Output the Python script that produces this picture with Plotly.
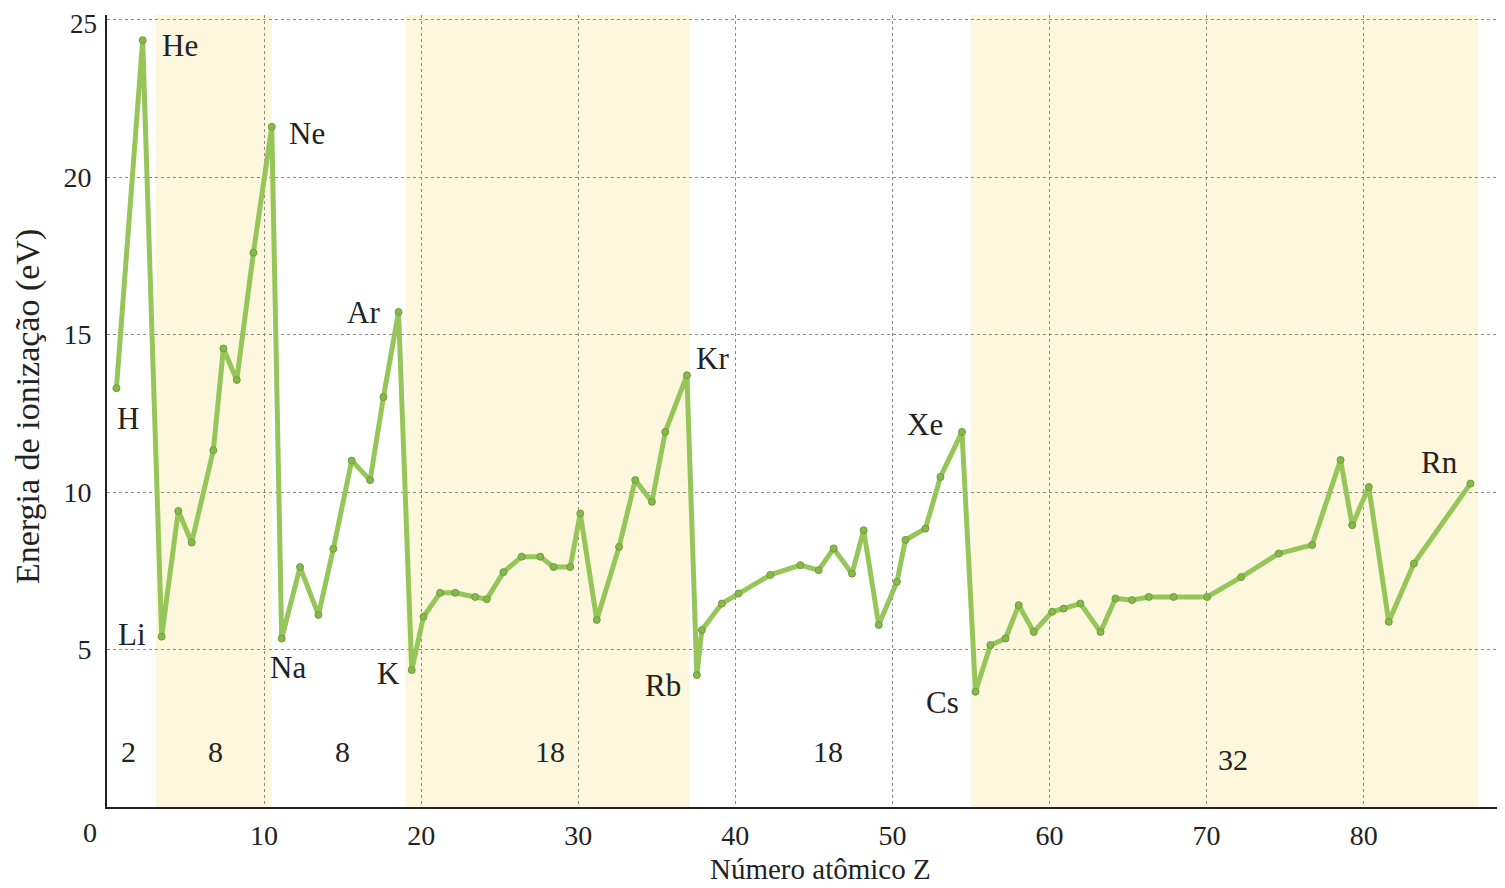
import plotly.graph_objects as go

# Points (x = position on atomic-number axis, y = ionization energy in eV)
z_pos = [0.6, 2.27, 3.48, 4.54, 5.39, 6.77, 7.41, 8.26, 9.32, 10.49,
         11.12, 12.29, 13.46, 14.41, 15.58, 16.75, 17.6, 18.56,
         19.4, 20.15, 21.21, 22.17, 23.44, 24.18, 25.24, 26.4, 27.58, 28.43, 29.49,
         30.13, 31.18, 32.6, 33.63, 34.69, 35.54, 36.92,
         37.55, 37.87, 39.14, 40.2, 42.23, 44.14, 45.3, 46.26, 47.43, 48.17,
         49.13, 50.29, 50.83, 52.1, 53.06, 54.43,
         55.29, 56.24, 57.2, 58.04, 59.0, 60.17, 60.9, 61.97, 63.25, 64.2, 65.26, 66.32,
         67.9, 70.04, 72.2, 74.6, 76.72, 78.53, 79.27, 80.33, 81.6, 83.2, 86.8]
energy = [13.3, 24.35, 5.41, 9.4, 8.4, 11.33, 14.56, 13.56, 17.6, 21.6,
          5.35, 7.62, 6.1, 8.2, 11.0, 10.38, 13.02, 15.72,
          4.35, 6.04, 6.8, 6.8, 6.67, 6.6, 7.46, 7.95, 7.95, 7.62, 7.62,
          9.32, 5.94, 8.26, 10.38, 9.69, 11.91, 13.71,
          4.19, 5.62, 6.46, 6.78, 7.37, 7.68, 7.52, 8.21, 7.41, 8.79,
          5.78, 7.15, 8.48, 8.84, 10.48, 11.91,
          3.66, 5.14, 5.35, 6.41, 5.56, 6.2, 6.3, 6.46, 5.56, 6.62, 6.57, 6.67,
          6.67, 6.67, 7.3, 8.05, 8.32, 11.02, 8.95, 10.16, 5.88, 7.73, 10.27]

# Element labels (text, x, y)
elem_text = ["He", "Ne", "Ar", "Kr", "Xe", "Rn", "H", "Li", "Na", "K", "Rb", "Cs"]
elem_x = [4.65, 12.73, 16.3, 38.57, 52.07, 84.85, 1.34, 1.59, 11.52, 17.89, 35.39, 53.2]
elem_y = [24.19, 21.4, 15.71, 14.25, 12.16, 10.95, 12.35, 5.49, 4.44, 4.25, 3.87, 3.33]

# Shell-size labels
shell_text = ["2", "8", "8", "18", "18", "32"]
shell_x = [1.4, 6.9, 15.0, 28.2, 45.9, 71.7]
shell_y = [1.75, 1.75, 1.75, 1.75, 1.75, 1.5]

# Shaded bands (x ranges)
band_x0 = [3.1, 19.0, 55.0]
band_x1 = [10.5, 37.1, 87.3]

x_ticks = [10, 20, 30, 40, 50, 60, 70, 80]
y_ticks = [5, 10, 15, 20, 25]
y_ticktext = ["5", "10", "15", "20", ""]   # top label "25" drawn separately so it is not clipped

SERIF = "Liberation Serif"
OFF = 8                      # page body margin of the html page
W, H = 1505 - OFF, 888 - OFF
L, T, B, R = 107 - OFF, 15 - OFF, 81, 0
PW, PH = W - L - R, H - T - B


def px(xp):                  # page x pixel -> paper x
    return (xp - OFF - L) / PW


def py(yp):                  # page y pixel -> paper y
    return (H - (yp - OFF) - B) / PH


fig = go.Figure()

fig.add_trace(go.Scatter(
    x=z_pos, y=energy, mode="lines+markers",
    line=dict(color="#96C65A", width=5),
    marker=dict(size=7, color="#86B84C", line=dict(color="#6E9E3E", width=1)),
    showlegend=False, hoverinfo="x+y",
))

for x0, x1 in zip(band_x0, band_x1):
    fig.add_shape(type="rect", xref="x", yref="y", x0=x0, x1=x1, y0=0, y1=25.15,
                  fillcolor="#FCF7DD", line=dict(width=0), layer="below")

for t, x, y in zip(elem_text, elem_x, elem_y):
    fig.add_annotation(x=x, y=y, text=t, showarrow=False, xref="x", yref="y",
                       xanchor="center", yanchor="middle",
                       font=dict(family=SERIF, size=31, color="#222"))

for t, x, y in zip(shell_text, shell_x, shell_y):
    fig.add_annotation(x=x, y=y, text=t, showarrow=False, xref="x", yref="y",
                       xanchor="center", yanchor="middle",
                       font=dict(family=SERIF, size=30, color="#222"))

# origin label
fig.add_annotation(x=px(90), y=py(832), text="0", showarrow=False,
                   xref="paper", yref="paper", xanchor="center", yanchor="middle",
                   font=dict(family=SERIF, size=28, color="#222"))
# top y label
fig.add_annotation(x=px(99), y=py(24), text="25", showarrow=False,
                   xref="paper", yref="paper", xanchor="right", yanchor="middle",
                   font=dict(family=SERIF, size=27, color="#222"))

# axis titles
fig.add_annotation(x=px(820), y=py(869), text="Número atômico Z",
                   showarrow=False, xref="paper", yref="paper",
                   xanchor="center", yanchor="middle",
                   font=dict(family=SERIF, size=29, color="#222"))
fig.add_annotation(x=px(28), y=py(407), text="Energia de ionização (eV)",
                   textangle=-90, showarrow=False, xref="paper", yref="paper",
                   xanchor="center", yanchor="middle",
                   font=dict(family=SERIF, size=34, color="#222"))

fig.update_layout(
    width=W, height=H,
    margin=dict(l=L, r=R, t=T, b=B, autoexpand=False),
    paper_bgcolor="white", plot_bgcolor="white",
    font=dict(family=SERIF, size=28, color="#222"),
)

fig.update_xaxes(
    range=[0, 89], tickvals=x_ticks, ticks="", showline=True, linecolor="#222", linewidth=2,
    showgrid=True, gridcolor="#8a8a8a", gridwidth=1, griddash="dot", zeroline=False,
    ticklabelstandoff=2, automargin=False, ticklabeloverflow="allow",
)
fig.update_yaxes(
    range=[0, 25.15], tickvals=y_ticks, ticktext=y_ticktext, ticks="", showline=True,
    linecolor="#222", linewidth=2,
    showgrid=True, gridcolor="#8a8a8a", gridwidth=1, griddash="dot", zeroline=False,
    ticklabelstandoff=8, automargin=False, ticklabeloverflow="allow",
)

fig.write_html("out.html")
